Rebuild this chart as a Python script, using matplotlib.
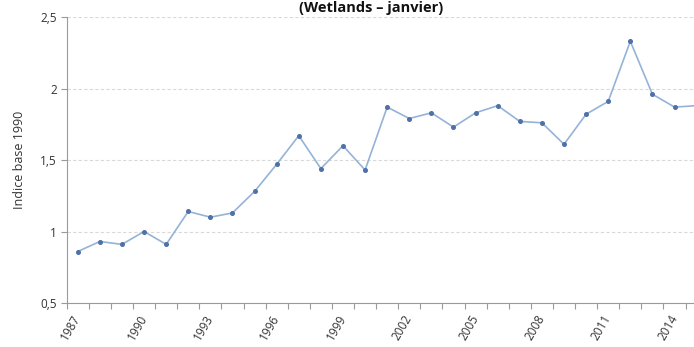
import matplotlib
matplotlib.use("Agg")
import matplotlib.pyplot as plt
import numpy as np

years = list(range(1987, 2016))
indice = [0.86, 0.93, 0.91, 1.00, 0.91, 1.14, 1.10, 1.13, 1.28, 1.47,
          1.67, 1.44, 1.60, 1.43, 1.87, 1.79, 1.83, 1.73, 1.83, 1.88,
          1.77, 1.76, 1.61, 1.82, 1.91, 2.33, 1.96, 1.87, 1.88]
label_years = [1987, 1990, 1993, 1996, 1999, 2002, 2005, 2008, 2011, 2014]
yticks = [0.5, 1, 1.5, 2, 2.5]
ytick_labels = ["0,5", "1", "1,5", "2", "2,5"]

plt.rcParams['font.family'] = ['Open Sans', 'DejaVu Sans']

fig = plt.figure(figsize=(6.94, 3.47), dpi=100)
n = len(years)
# category axis: one slot per year, the last slots run past the right edge
ax = fig.add_axes([0.0961, 0.1268, 0.9236, 0.8242])
x = np.arange(n)

ax.plot(x, indice, color='#95b3d7', lw=1.2, zorder=3)
ax.plot(x, indice, ls='none', marker='o', ms=2.6, color='#4f71a8', zorder=4)

ax.set_xlim(-0.5, n - 0.5)
ax.set_ylim(0.5, 2.5)

ax.set_yticks(yticks)
ax.set_yticklabels(ytick_labels, fontsize=8.5, color='#333333')
for v in yticks[1:]:
    ax.axhline(v, color='#d9d9d9', lw=0.8, ls=(0, (3, 2)), zorder=1)

ax.set_xticks([years.index(y) for y in label_years])
ax.set_xticklabels([str(y) for y in label_years], rotation=60, ha='right',
                   va='center', rotation_mode='anchor', fontsize=8.5,
                   color='#333333')
ax.set_xticks(np.arange(n + 1) - 0.5, minor=True)
ax.tick_params(axis='x', which='major', length=0, pad=9)
ax.tick_params(axis='x', which='minor', length=4, color='#9a9a9a', width=0.8)
ax.tick_params(axis='y', length=4, color='#9a9a9a', width=0.8, pad=3)

for side in ['top', 'right']:
    ax.spines[side].set_visible(False)
for side in ['left', 'bottom']:
    ax.spines[side].set_color('#9a9a9a')
    ax.spines[side].set_linewidth(0.8)

ax.set_ylabel('Indice base 1990', fontsize=9, color='#333333', labelpad=10)

# title right at the top edge of the figure
fig.text(0.535, 0.964, '(Wetlands – janvier)', ha='center', va='baseline',
         fontsize=10.5, fontweight='bold', color='#111111')

fig.savefig('out.png', dpi=100)
